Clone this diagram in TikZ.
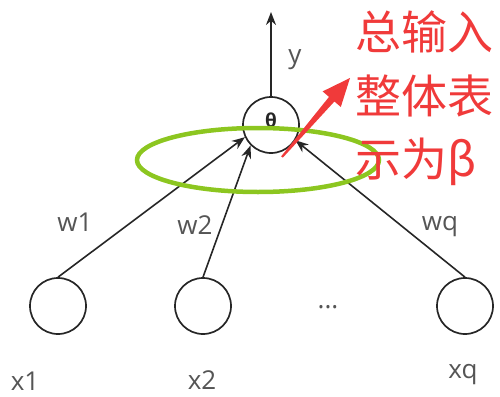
\documentclass[tikz,border=0pt]{standalone}
\usepackage{fontspec}
\setmainfont{Open Sans}
\newfontfamily\cjk{Noto Sans CJK SC}
\usetikzlibrary{arrows.meta}
\definecolor{lblgray}{RGB}{85,85,85}
\definecolor{ringgreen}{RGB}{140,198,32}
\definecolor{notered}{RGB}{240,58,58}
\tikzset{
  unit/.style={circle,draw=black!85,line width=1.7pt,minimum size=56pt,inner sep=0pt},
  wire/.style={line width=1.6pt,black!85,-{Stealth[length=13pt,width=10pt]}},
  lbl/.style={font=\fontsize{26}{30}\selectfont,text=lblgray,inner sep=0pt},
  ring/.style={draw=ringgreen,line width=4.5pt},
  notetxt/.style={font=\cjk\fontsize{46}{64}\selectfont,text=notered,inner sep=0pt,anchor=base west},
}
\begin{document}
\begin{tikzpicture}[x=1pt,y=-1pt]
  \useasboundingbox (0,0) rectangle (500,396);
  % neurons
  \node[unit] (out) at (271,125) {};
  \node[font=\bfseries\fontsize{19}{19}\selectfont,text=black!85,inner sep=0pt] (theta) at (271,120) {θ};
  \node[unit] (in1) at (58,306) {};
  \node[unit] (in2) at (203,306) {};
  \node[unit] (inq) at (465,306) {};
  \coordinate (ytip) at (271,12);
  % connectors
  \draw[wire] (out.north) -- (ytip);
  \draw[wire] (in1.north) -- (out.205);
  \draw[wire] (in2.north) -- (out.225);
  \draw[wire] (inq.north) -- (out.328);
  % labels
  \node[lbl] (ylbl) at (295,60) {y};
  \node[lbl] (w1) at (75,222) {w1};
  \node[lbl] (w2) at (195,225) {w2};
  \node[lbl] (wq) at (440,227) {wq};
  \node[lbl] (dots) at (328,307) {...};
  \node[lbl] (x1) at (25,381) {x1};
  \node[lbl] (x2) at (202,380) {x2};
  \node[lbl] (xq) at (463,375) {xq};
  % total input ring
  \draw[ring] (258,160) ellipse [x radius=121pt,y radius=32pt];
  % red note
  \fill[notered] (281.2,156.3) -- (329.0,96.9) -- (322.6,91.4) -- (350,78)
    -- (340.8,107.0) -- (334.4,101.5) -- (282.8,157.7) -- cycle;
  \node[notetxt] (note1) at (355,49) {总输入};
  \node[notetxt] (note2) at (355,113) {整体表};
  \node[notetxt] (note3) at (355,176) {示为β};
\end{tikzpicture}
\end{document}
